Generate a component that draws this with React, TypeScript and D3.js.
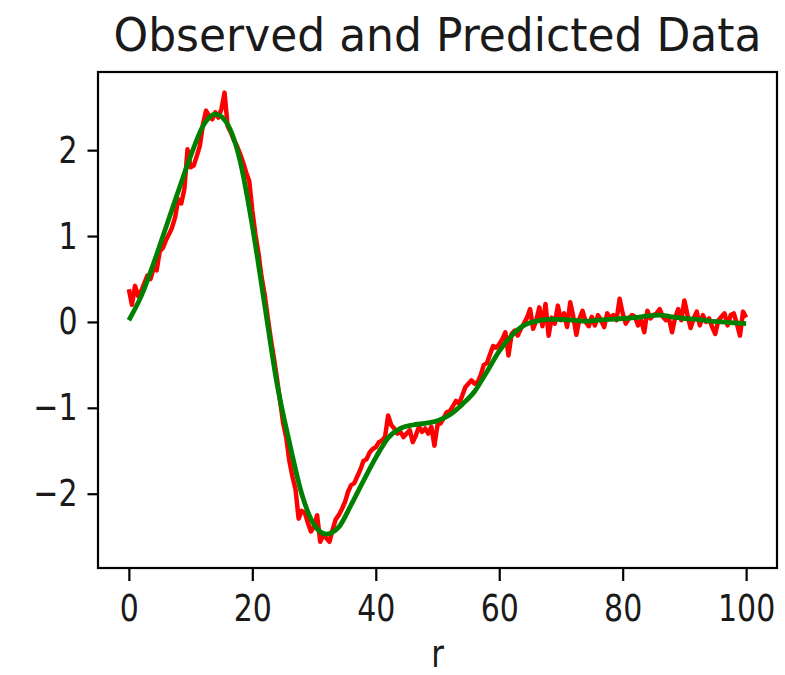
import React, { useRef, useEffect } from 'react'
import * as d3 from 'd3'

// observed (noisy) values, sampled every 0.5 in r from 0 to 100
const observedStep = 0.5
const observed = [
  0.38, 0.20, 0.42, 0.30, 0.36, 0.45, 0.54, 0.50, 0.62, 0.60,
  0.82, 0.86, 0.95, 1.02, 1.10, 1.22, 1.43, 1.38, 1.55, 2.01,
  1.80, 1.82, 1.93, 2.05, 2.30, 2.46, 2.40, 2.36, 2.44, 2.38,
  2.48, 2.67, 2.28, 2.21, 2.12, 2.05, 1.96, 1.86, 1.74, 1.64,
  1.30, 1.02, 0.80, 0.52, 0.32, 0.05, -0.20, -0.42, -0.66, -0.92,
  -1.18, -1.35, -1.62, -1.80, -1.95, -2.29, -2.20, -2.22, -2.34, -2.44,
  -2.38, -2.25, -2.56, -2.48, -2.52, -2.56, -2.42, -2.30, -2.25, -2.18,
  -2.10, -1.98, -1.90, -1.88, -1.80, -1.72, -1.62, -1.60, -1.52, -1.48,
  -1.46, -1.40, -1.38, -1.34, -1.09, -1.20, -1.24, -1.30, -1.28, -1.34,
  -1.30, -1.26, -1.40, -1.32, -1.22, -1.28, -1.24, -1.30, -1.22, -1.44,
  -1.20, -1.18, -1.12, -1.05, -1.04, -0.98, -0.92, -0.95, -0.86, -0.76,
  -0.72, -0.68, -0.72, -0.70, -0.62, -0.50, -0.48, -0.38, -0.28, -0.30,
  -0.26, -0.20, -0.12, -0.39, -0.14, -0.10, -0.16, -0.08, -0.02, 0.05,
  0.15, -0.08, 0.02, 0.17, -0.05, 0.21, -0.16, 0.05, -0.02, 0.19,
  0.02, 0.10, -0.06, 0.23, 0.06, -0.15, 0.04, 0.13, 0.00, -0.05,
  0.06, -0.04, 0.08, 0.02, -0.06, 0.10, 0.04, 0.08, 0.02, 0.27,
  0.10, -0.02, 0.04, 0.08, 0.06, -0.04, 0.02, -0.12, 0.13, 0.04,
  0.08, 0.10, 0.15, 0.06, 0.02, 0.04, -0.12, 0.05, 0.15, 0.02,
  0.25, 0.08, -0.07, 0.04, 0.12, -0.04, 0.08, 0.00, 0.04, -0.06,
  -0.14, 0.02, 0.06, 0.10, -0.04, 0.08, 0.10, -0.02, -0.16, 0.12,
  0.05,
]

// predicted (smooth) values, every 2 in r
const predictedStep = 2
const predicted = [
  0.02, 0.30, 0.68, 1.10, 1.52, 1.93, 2.28, 2.42, 2.30, 1.88,
  1.12, 0.20, -0.72, -1.40, -2.00, -2.36, -2.47, -2.39, -2.13, -1.85,
  -1.58, -1.35, -1.24, -1.20, -1.18, -1.15, -1.08, -0.96, -0.81, -0.58,
  -0.34, -0.16, -0.04, 0.01, 0.03, 0.03, 0.02, 0.01, 0.02, 0.03,
  0.04, 0.05, 0.07, 0.08, 0.06, 0.04, 0.03, 0.01, 0.00, -0.01,
  -0.02,
]

const xTicks = [0, 20, 40, 60, 80, 100]
const yTicks = [-2, -1, 0, 1, 2]

// the picture is a bit taller than wide, text looks stretched vertically
const stretch = 1.25

export default function App() {
  const visEl = useRef<HTMLDivElement>(null)
  const width = 785
  const height = 675

  useEffect(() => {
    const root = d3.select(visEl.current)
    root.selectAll('*').remove()
    const svg = root.append('svg')
      .attr('width', width)
      .attr('height', height)
      .style('position', 'absolute')
      .style('left', 0)
      .style('top', 0)
      .style('font-family', '"DejaVu Sans", sans-serif')

    const margin = { top: 72, right: 8, bottom: 107, left: 98 }
    const innerWidth = width - margin.left - margin.right
    const innerHeight = height - margin.top - margin.bottom

    const xScale = d3.scaleLinear().domain([-5, 105]).range([0, innerWidth])
    const yScale = d3.scaleLinear().domain([-2.865, 2.91]).range([innerHeight, 0])

    const g = svg.append('g')
      .attr('transform', `translate(${margin.left},${margin.top})`)

    const obsLine = d3.line<number>()
      .x((d, i) => xScale(i * observedStep))
      .y(d => yScale(d))
    const predLine = d3.line<number>()
      .curve(d3.curveMonotoneX)
      .x((d, i) => xScale(i * predictedStep))
      .y(d => yScale(d))

    g.append('path').datum(observed)
      .attr('d', obsLine)
      .attr('fill', 'none')
      .attr('stroke', '#ff0000')
      .attr('stroke-width', 4.5)
      .attr('stroke-linejoin', 'round')
    g.append('path').datum(predicted)
      .attr('d', predLine)
      .attr('fill', 'none')
      .attr('stroke', '#008000')
      .attr('stroke-width', 4.8)

    const xAxis = d3.axisBottom(xScale).tickValues(xTicks)
      .tickSize(13).tickFormat(d3.format('d'))
    const yAxis = d3.axisLeft(yScale).tickValues(yTicks)
      .tickSize(10.5).tickPadding(10).tickFormat(d3.format('d'))

    const xAxisG = g.append('g')
      .attr('transform', `translate(0,${innerHeight})`)
      .call(xAxis)
    const yAxisG = g.append('g').call(yAxis)
    ;[xAxisG, yAxisG].forEach(a => {
      a.select('.domain').remove()
      a.selectAll('.tick line').attr('stroke', '#000').attr('stroke-width', 2.2)
      a.selectAll('.tick text')
        .attr('fill', '#1a1a1a')
        .style('font-size', '30px')
        .style('font-family', '"DejaVu Sans", sans-serif')
    })
    xAxisG.selectAll('.tick text')
      .attr('y', 0)
      .attr('transform', `translate(0,26) scale(1,${stretch})`)
    yAxisG.selectAll('.tick text')
      .attr('transform', `scale(1,${stretch})`)

    // axes frame
    g.append('rect')
      .attr('width', innerWidth)
      .attr('height', innerHeight)
      .attr('fill', 'none')
      .attr('stroke', '#000')
      .attr('stroke-width', 2.2)

    svg.append('text')
      .attr('text-anchor', 'middle')
      .attr('fill', '#1a1a1a')
      .attr('transform', `translate(${margin.left + innerWidth / 2},51) scale(1,1.05)`)
      .style('font-size', '44px')
      .text('Observed and Predicted Data')

    svg.append('text')
      .attr('text-anchor', 'middle')
      .attr('fill', '#1a1a1a')
      .attr('transform', `translate(${margin.left + innerWidth / 2},667) scale(1,${stretch})`)
      .style('font-size', '31px')
      .text('r')
  }, [])

  return (
    <div>
      <div ref={visEl}></div>
    </div>
  )
}
